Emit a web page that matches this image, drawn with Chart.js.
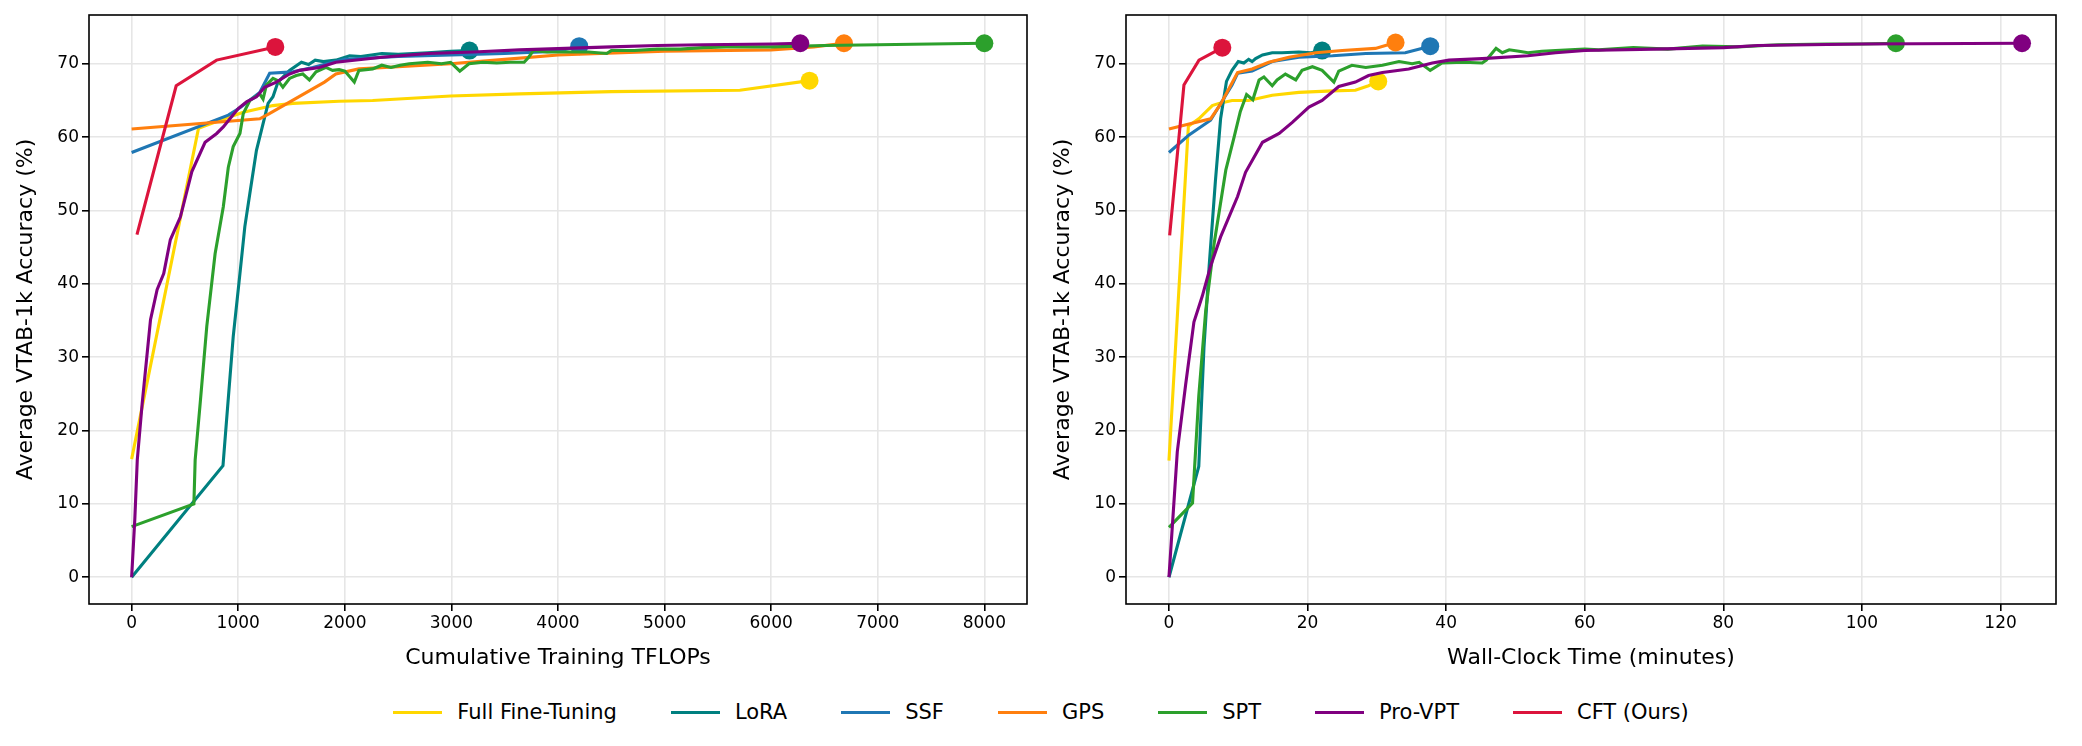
<!DOCTYPE html>
<html>
<head>
<meta charset="utf-8">
<script src="https://cdn.jsdelivr.net/npm/chart.js@4.4.1/dist/chart.umd.min.js"></script>
<style>
html, body { margin: 0; padding: 0; background: #fff; }
body { width: 2082px; height: 746px; position: relative; overflow: hidden; font-family: "DejaVu Sans", sans-serif; }
#flops { position: absolute; left: 0; top: 0; }
#time { position: absolute; left: 1041px; top: 0; }
#legend { position: absolute; left: 0; top: 694px; width: 2082px; height: 36px; display: flex; justify-content: center; align-items: center; font-size: 21px; color: #000; }
.item { display: flex; align-items: center; margin: 0 27px; }
.swatch { width: 49px; height: 0; border-top: 3px solid; margin-right: 15px; }
</style>
</head>
<body>
<canvas id="flops" width="1041" height="680"></canvas>
<canvas id="time" width="1041" height="680"></canvas>
<div id="legend"></div>
<script>
var names = ["Full Fine-Tuning", "LoRA", "SSF", "GPS", "SPT", "Pro-VPT", "CFT (Ours)"];
var colors = ["#FFD700", "#008080", "#1f77b4", "#ff7f0e", "#2ca02c", "#800080", "#DC143C"];

var yTicks = [0, 10, 20, 30, 40, 50, 60, 70];
var flopsTicks = [0, 1000, 2000, 3000, 4000, 5000, 6000, 7000, 8000];
var timeTicks = [0, 20, 40, 60, 80, 100, 120];

// [TFLOPs, accuracy]
var ftFlops = [[0,16.1],[627,61.2],[829,62.3],[1047,63.4],[1326,64.3],[1512,64.6],[1947,64.9],[2261,65.0],[2993,65.6],[3639,65.9],[4500,66.2],[5706,66.4],[6360,67.7]];
var loraFlops = [[0,0],[857,15.2],[891,21.5],[953,32.8],[1016,41.4],[1062,47.8],[1109,52.3],[1171,58.2],[1217,60.9],[1280,64.6],[1326,65.5],[1373,67.5],[1481,69.1],[1593,70.2],[1660,69.9],[1722,70.5],[1800,70.3],[1916,70.5],[2045,71.1],[2150,71.0],[2347,71.4],[2500,71.3],[2778,71.5],[2993,71.7],[3170,71.8]];
var ssfFlops = [[0,57.9],[907,63.0],[1016,64.0],[1202,66.1],[1295,68.7],[1512,68.9],[1699,69.5],[1885,70.2],[2000,70.6],[2500,71.0],[3000,71.2],[3500,71.4],[4000,71.7],[4199,72.4]];
var gpsFlops = [[0,61.1],[1202,62.5],[1292,63.2],[1809,67.5],[1916,68.6],[2132,69.3],[2500,69.6],[2993,70.0],[3500,70.6],[4000,71.2],[5000,71.7],[6000,71.9],[6400,72.3],[6683,72.8]];
var sptFlops = [[0,6.9],[584,10.0],[596,16.0],[643,23.7],[705,34.2],[783,44.1],[860,50.5],[907,55.9],[953,58.7],[1016,60.5],[1047,63.2],[1109,65.0],[1202,65.9],[1233,65.2],[1264,67.1],[1326,68.0],[1373,67.7],[1419,66.8],[1481,68.0],[1544,68.4],[1606,68.6],[1668,67.8],[1730,68.9],[1823,69.5],[1885,69.1],[1947,69.2],[2000,69.0],[2089,67.5],[2132,69.1],[2261,69.3],[2347,69.8],[2433,69.5],[2519,69.8],[2605,70.0],[2778,70.2],[2907,70.0],[2993,70.2],[3079,69.0],[3165,70.0],[3295,70.2],[3424,70.1],[3553,70.2],[3682,70.2],[3725,70.9],[3768,71.8],[3898,71.6],[4070,71.6],[4285,71.6],[4457,71.4],[4500,71.8],[4716,71.8],[4931,72.0],[5147,72.0],[5362,72.2],[5577,72.3],[5792,72.3],[6008,72.3],[6500,72.5],[7000,72.6],[7500,72.7],[8000,72.8]];
var proFlops = [[0,0],[30,8],[53,16.0],[99,23.7],[177,35.1],[239,39.2],[301,41.4],[363,46.0],[457,49.1],[565,55.3],[689,59.3],[798,60.5],[860,61.4],[922,62.5],[1000,63.9],[1078,64.8],[1171,65.5],[1248,66.8],[1357,67.5],[1481,68.6],[1575,69.1],[1761,69.5],[1916,70.2],[2347,70.9],[2778,71.4],[3208,71.6],[3639,71.9],[4070,72.1],[4500,72.3],[4931,72.5],[5362,72.6],[6008,72.7],[6273,72.8]];
var cftFlops = [[50,46.7],[418,67.0],[797,70.5],[1348,72.3]];

// [minutes, accuracy]
var ftTime = [[0,15.9],[2.8,61.5],[4.3,62.5],[6.25,64.3],[7.2,64.6],[9.1,65.0],[11.5,65.0],[14.9,65.7],[18.75,66.1],[23.6,66.3],[26.9,66.4],[28.8,67.0],[30.2,67.6]];
var loraTime = [[0,0],[4.3,15.1],[5.05,31.3],[5.8,42.4],[6.7,54.0],[7.45,62.5],[8.3,67.6],[9.1,69.1],[10.0,70.3],[10.8,70.1],[11.5,70.6],[12.0,70.3],[12.5,70.7],[13.5,71.2],[14.9,71.5],[16.3,71.5],[18.75,71.6],[20.5,71.5],[22.1,71.8]];
var ssfTime = [[0,57.9],[2.9,60.3],[6.0,62.3],[9.1,67.1],[9.9,68.7],[12.0,69.0],[14.9,70.3],[18.75,70.9],[23.6,71.1],[28.4,71.4],[34.1,71.5],[37.7,72.4]];
var gpsTime = [[0,61.1],[2.9,61.8],[6.0,62.5],[7.45,64.5],[9.9,68.8],[12.0,69.3],[14.4,70.2],[17.3,70.9],[21.2,71.5],[25,71.8],[29.8,72.1],[32.7,72.9]];
var sptTime = [[0,6.8],[3.4,10.1],[4.3,24.7],[5.3,36.3],[6.5,45.4],[8.2,55.5],[9.4,60.0],[10.3,63.5],[11.2,65.8],[12.1,65.1],[13.0,67.8],[13.7,68.2],[14.9,67.0],[15.6,67.8],[16.8,68.6],[18.3,67.8],[19.2,69.1],[20.7,69.6],[22.1,69.1],[23.8,67.5],[24.5,69.0],[26.4,69.8],[28.4,69.5],[30.8,69.8],[33.2,70.3],[35.1,70.0],[36.1,70.2],[37.7,69.1],[39.4,70.1],[42.5,70.2],[45.2,70.1],[45.8,70.5],[47.2,72.1],[48.1,71.5],[49.1,71.9],[50.5,71.7],[51.8,71.5],[53.8,71.7],[55.8,71.8],[60,72.0],[62,71.9],[67,72.2],[72,72.0],[77,72.4],[82,72.3],[88,72.6],[95,72.7],[100,72.7],[104.9,72.8]];
var proTime = [[0,0],[1.2,17.1],[2.4,26.2],[3.6,34.8],[4.8,38.3],[6.0,42.4],[7.45,46.4],[9.9,51.9],[11.05,55.2],[13.5,59.3],[15.9,60.5],[17.8,62.0],[20.2,64.1],[22.1,65.0],[24.5,66.9],[26.9,67.5],[28.8,68.4],[30.8,68.8],[34.6,69.3],[38.0,70.1],[40.4,70.5],[45.2,70.7],[51.8,71.1],[55.8,71.5],[60,71.8],[70,72.0],[80,72.2],[85,72.5],[100,72.7],[123.1,72.8]];
var cftTime = [[0.1,46.6],[2.16,67.1],[4.33,70.5],[7.7,72.2]];

Chart.defaults.font.family = '"DejaVu Sans", sans-serif';
Chart.defaults.color = '#000';

// box round the plot area, like matplotlib spines
var frame = {
  id: 'frame',
  afterDraw: function(chart){
    var a = chart.chartArea, ctx = chart.ctx;
    ctx.save();
    ctx.strokeStyle = '#000';
    ctx.lineWidth = 1.6;
    ctx.strokeRect(a.left, a.top, a.right - a.left, a.bottom - a.top);
    ctx.restore();
  }
};

function makeSets(list){
  return list.map(function(pts, i){
    return {
      label: names[i],
      data: pts.map(function(p){ return {x: p[0], y: p[1]}; }),
      borderColor: colors[i],
      backgroundColor: colors[i],
      borderWidth: 3.1,
      tension: 0,
      pointRadius: pts.map(function(p, j){ return j === pts.length - 1 ? 9 : 0; }),
      pointHoverRadius: 0,
      pointBorderWidth: 0,
      order: names.length - i,
      clip: false
    };
  });
}

function CreateChart(id, sets, xMin, xMax, xTicks, xTitle, yWidth, yTitlePad, padRight){
  new Chart(document.getElementById(id), {
    type: 'line',
    data: { datasets: makeSets(sets) },
    plugins: [frame],
    options: {
      responsive: false,
      animation: false,
      devicePixelRatio: 1,
      layout: { autoPadding: false, padding: { top: 15, right: padRight, left: 0, bottom: 0 } },
      plugins: { legend: { display: false }, tooltip: { enabled: false } },
      scales: {
        x: {
          type: 'linear', min: xMin, max: xMax,
          afterBuildTicks: function(s){ s.ticks = xTicks.map(function(v){ return {value: v}; }); },
          afterFit: function(s){ s.height = 76; },
          grid: { color: '#e6e6e6', lineWidth: 1.6, tickColor: '#000', tickLength: 7, tickWidth: 1.6 },
          border: { display: false },
          ticks: { font: { size: 17 }, padding: 2, maxRotation: 0, callback: function(v){ return String(v); } },
          title: { display: true, text: xTitle, font: { size: 22 }, padding: { top: 0, bottom: 9 } }
        },
        y: {
          type: 'linear', min: -3.65, max: 76.65,
          afterBuildTicks: function(s){ s.ticks = yTicks.map(function(v){ return {value: v}; }); },
          afterFit: function(s){ s.width = yWidth; },
          grid: { color: '#e6e6e6', lineWidth: 1.6, tickColor: '#000', tickLength: 7, tickWidth: 1.6 },
          border: { display: false },
          ticks: { font: { size: 17 }, padding: 3, callback: function(v){ return String(v); } },
          title: { display: true, text: 'Average VTAB-1k Accuracy (%)', font: { size: 22 }, padding: { top: yTitlePad, bottom: 0 } }
        }
      }
    }
  });
}

CreateChart('flops', [ftFlops, loraFlops, ssfFlops, gpsFlops, sptFlops, proFlops, cftFlops],
  -400, 8400, flopsTicks, 'Cumulative Training TFLOPs', 89, 13, 14);
CreateChart('time', [ftTime, loraTime, ssfTime, gpsTime, sptTime, proTime, cftTime],
  -6.2, 128, timeTicks, 'Wall-Clock Time (minutes)', 85, 9, 26);

var legend = document.getElementById('legend');
names.forEach(function(n, i){
  var item = document.createElement('div');
  item.className = 'item';
  var sw = document.createElement('span');
  sw.className = 'swatch';
  sw.style.borderTopColor = colors[i];
  var tx = document.createElement('span');
  tx.textContent = n;
  item.appendChild(sw);
  item.appendChild(tx);
  legend.appendChild(item);
});
</script>
</body>
</html>
